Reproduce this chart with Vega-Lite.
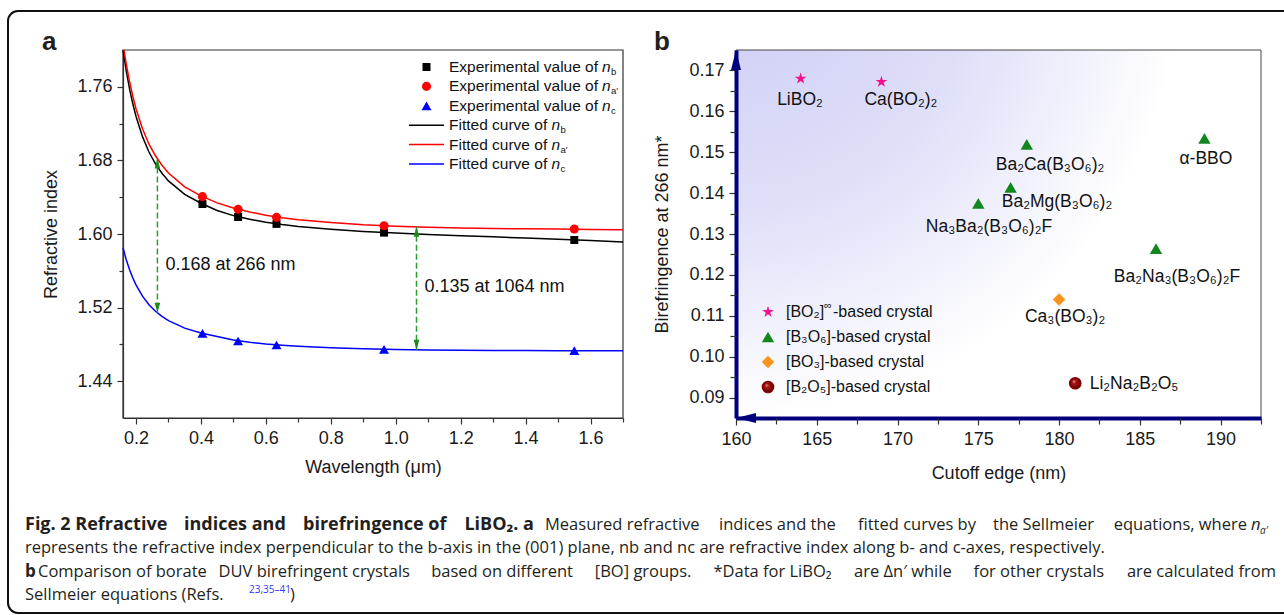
{
  "$schema": "https://vega.github.io/schema/vega-lite/v6.json",
  "width": 1286,
  "height": 602,
  "autosize": {"type": "none"},
  "padding": {"left": 8, "top": 11, "right": -10, "bottom": 2},
  "background": "#ffffff",
  "config": {
    "view": {"stroke": "#111111", "strokeWidth": 2, "cornerRadius": 10},
    "font": "Liberation Sans",
    "axis": {"grid": false, "labelFont": "Liberation Sans", "labelFontSize": 18, "labelColor": "#1a1a1a", "titleFont": "Liberation Sans", "titleFontSize": 18, "titleFontWeight": "normal", "titleColor": "#1a1a1a", "tickColor": "#333333", "domainColor": "#333333", "labelOverlap": false, "labelFlush": false}
  },
  "datasets": {
    "curvesA": [
      {"lam": 0.16, "n": 1.8, "s": "nb"}, {"lam": 0.17, "n": 1.7774, "s": "nb"}, {"lam": 0.18, "n": 1.7581, "s": "nb"}, {"lam": 0.19, "n": 1.7418, "s": "nb"}, {"lam": 0.2, "n": 1.728, "s": "nb"}, {"lam": 0.22, "n": 1.7058, "s": "nb"}, {"lam": 0.24, "n": 1.6891, "s": "nb"}, {"lam": 0.26, "n": 1.6762, "s": "nb"}, {"lam": 0.28, "n": 1.6661, "s": "nb"}, {"lam": 0.3, "n": 1.6577, "s": "nb"}, {"lam": 0.35, "n": 1.643, "s": "nb"}, {"lam": 0.4, "n": 1.6334, "s": "nb"}, {"lam": 0.45, "n": 1.6255, "s": "nb"}, {"lam": 0.5, "n": 1.62, "s": "nb"}, {"lam": 0.55, "n": 1.616, "s": "nb"}, {"lam": 0.6, "n": 1.6128, "s": "nb"}, {"lam": 0.65, "n": 1.6102, "s": "nb"}, {"lam": 0.7, "n": 1.6082, "s": "nb"}, {"lam": 0.8, "n": 1.6052, "s": "nb"}, {"lam": 0.9, "n": 1.6028, "s": "nb"}, {"lam": 1.0, "n": 1.601, "s": "nb"}, {"lam": 1.1, "n": 1.5995, "s": "nb"}, {"lam": 1.2, "n": 1.5982, "s": "nb"}, {"lam": 1.3, "n": 1.5969, "s": "nb"}, {"lam": 1.4, "n": 1.5956, "s": "nb"}, {"lam": 1.5, "n": 1.5943, "s": "nb"}, {"lam": 1.6, "n": 1.5928, "s": "nb"}, {"lam": 1.7, "n": 1.5912, "s": "nb"},
      {"lam": 0.163, "n": 1.8, "s": "na"}, {"lam": 0.17, "n": 1.785, "s": "na"}, {"lam": 0.18, "n": 1.766, "s": "na"}, {"lam": 0.19, "n": 1.75, "s": "na"}, {"lam": 0.2, "n": 1.7362, "s": "na"}, {"lam": 0.22, "n": 1.7143, "s": "na"}, {"lam": 0.24, "n": 1.6976, "s": "na"}, {"lam": 0.26, "n": 1.685, "s": "na"}, {"lam": 0.28, "n": 1.6748, "s": "na"}, {"lam": 0.3, "n": 1.6663, "s": "na"}, {"lam": 0.35, "n": 1.6512, "s": "na"}, {"lam": 0.4, "n": 1.6414, "s": "na"}, {"lam": 0.45, "n": 1.6338, "s": "na"}, {"lam": 0.5, "n": 1.6283, "s": "na"}, {"lam": 0.55, "n": 1.624, "s": "na"}, {"lam": 0.6, "n": 1.6205, "s": "na"}, {"lam": 0.65, "n": 1.6176, "s": "na"}, {"lam": 0.7, "n": 1.6155, "s": "na"}, {"lam": 0.8, "n": 1.6125, "s": "na"}, {"lam": 0.9, "n": 1.61, "s": "na"}, {"lam": 1.0, "n": 1.6085, "s": "na"}, {"lam": 1.1, "n": 1.6074, "s": "na"}, {"lam": 1.2, "n": 1.6066, "s": "na"}, {"lam": 1.3, "n": 1.606, "s": "na"}, {"lam": 1.4, "n": 1.6056, "s": "na"}, {"lam": 1.5, "n": 1.6053, "s": "na"}, {"lam": 1.6, "n": 1.605, "s": "na"}, {"lam": 1.7, "n": 1.6047, "s": "na"},
      {"lam": 0.16, "n": 1.585, "s": "nc"}, {"lam": 0.17, "n": 1.5721, "s": "nc"}, {"lam": 0.18, "n": 1.5614, "s": "nc"}, {"lam": 0.19, "n": 1.5524, "s": "nc"}, {"lam": 0.2, "n": 1.5447, "s": "nc"}, {"lam": 0.22, "n": 1.5324, "s": "nc"}, {"lam": 0.24, "n": 1.5232, "s": "nc"}, {"lam": 0.26, "n": 1.516, "s": "nc"}, {"lam": 0.28, "n": 1.5104, "s": "nc"}, {"lam": 0.3, "n": 1.5058, "s": "nc"}, {"lam": 0.35, "n": 1.4977, "s": "nc"}, {"lam": 0.4, "n": 1.4924, "s": "nc"}, {"lam": 0.45, "n": 1.4885, "s": "nc"}, {"lam": 0.5, "n": 1.4847, "s": "nc"}, {"lam": 0.55, "n": 1.4823, "s": "nc"}, {"lam": 0.6, "n": 1.4804, "s": "nc"}, {"lam": 0.65, "n": 1.479, "s": "nc"}, {"lam": 0.7, "n": 1.4779, "s": "nc"}, {"lam": 0.8, "n": 1.4764, "s": "nc"}, {"lam": 0.9, "n": 1.4752, "s": "nc"}, {"lam": 1.0, "n": 1.4744, "s": "nc"}, {"lam": 1.1, "n": 1.4739, "s": "nc"}, {"lam": 1.2, "n": 1.4736, "s": "nc"}, {"lam": 1.3, "n": 1.4734, "s": "nc"}, {"lam": 1.4, "n": 1.4733, "s": "nc"}, {"lam": 1.5, "n": 1.4732, "s": "nc"}, {"lam": 1.6, "n": 1.4731, "s": "nc"}, {"lam": 1.7, "n": 1.473, "s": "nc"}
    ],
    "ptsA": [
      {"lam": 0.4047, "n": 1.6326, "s": "nb"}, {"lam": 0.5145, "n": 1.6185, "s": "nb"}, {"lam": 0.6328, "n": 1.611, "s": "nb"}, {"lam": 0.964, "n": 1.6015, "s": "nb"}, {"lam": 1.55, "n": 1.5935, "s": "nb"},
      {"lam": 0.4047, "n": 1.6406, "s": "na"}, {"lam": 0.5145, "n": 1.6268, "s": "na"}, {"lam": 0.6328, "n": 1.6181, "s": "na"}, {"lam": 0.964, "n": 1.609, "s": "na"}, {"lam": 1.55, "n": 1.6054, "s": "na"},
      {"lam": 0.4047, "n": 1.492, "s": "nc"}, {"lam": 0.5145, "n": 1.4837, "s": "nc"}, {"lam": 0.6328, "n": 1.4793, "s": "nc"}, {"lam": 0.964, "n": 1.4746, "s": "nc"}, {"lam": 1.55, "n": 1.4732, "s": "nc"}
    ],
    "arrowsA": [
      {"lam": 0.266, "top": 1.682, "bot": 1.5145, "label": "0.168 at 266 nm", "ly": 1.5663},
      {"lam": 1.064, "top": 1.6078, "bot": 1.4741, "label": "0.135 at 1064 nm", "ly": 1.5424}
    ],
    "legA": [
      {"item": 1, "kind": "pt", "s": "nb", "t": "Experimental value of", "sub": "b"},
      {"item": 2, "kind": "pt", "s": "na", "t": "Experimental value of", "sub": "a′"},
      {"item": 3, "kind": "pt", "s": "nc", "t": "Experimental value of", "sub": "c"},
      {"item": 4, "kind": "ln", "s": "nb", "t": "Fitted curve of", "sub": "b"},
      {"item": 5, "kind": "ln", "s": "na", "t": "Fitted curve of", "sub": "a′"},
      {"item": 6, "kind": "ln", "s": "nc", "t": "Fitted curve of", "sub": "c"}
    ],
    "ptsB": [
      {"name": "LiBO₂", "cutoff": 164, "biref": 0.168, "g": "BO2", "lx": 163.96, "ly": 0.1628},
      {"name": "Ca(BO₂)₂", "cutoff": 169, "biref": 0.1672, "g": "BO2", "lx": 170.21, "ly": 0.1628},
      {"name": "Ba₂Ca(B₃O₆)₂", "cutoff": 178, "biref": 0.1519, "g": "B3O6", "lx": 179.44, "ly": 0.1469},
      {"name": "α-BBO", "cutoff": 189, "biref": 0.1534, "g": "B3O6", "lx": 189.09, "ly": 0.1483},
      {"name": "Ba₂Mg(B₃O₆)₂", "cutoff": 177, "biref": 0.1414, "g": "B3O6", "lx": 179.87, "ly": 0.1378},
      {"name": "Na₃Ba₂(B₃O₆)₂F", "cutoff": 175, "biref": 0.1375, "g": "B3O6", "lx": 175.66, "ly": 0.1317},
      {"name": "Ba₂Na₃(B₃O₆)₂F", "cutoff": 186, "biref": 0.1264, "g": "B3O6", "lx": 187.3, "ly": 0.1194},
      {"name": "Ca₃(BO₃)₂", "cutoff": 180, "biref": 0.114, "g": "BO3", "lx": 180.37, "ly": 0.1097},
      {"name": "Li₂Na₂B₂O₅", "cutoff": 181, "biref": 0.0935, "g": "B2O5", "lx": 184.64, "ly": 0.0933}
    ],
    "legB": [
      {"item": 1, "g": "BO2", "t": "[BO₂]"},
      {"item": 2, "g": "B3O6", "t": "[B₃O₆]-based crystal"},
      {"item": 3, "g": "BO3", "t": "[BO₃]-based crystal"},
      {"item": 4, "g": "B2O5", "t": "[B₂O₅]-based crystal"}
    ],
    "caption": [
      {"line": 1, "seg": "B1", "t": "Fig. 2 Refractive"},
      {"line": 1, "seg": "B2", "t": "indices and"},
      {"line": 1, "seg": "B3", "t": "birefringence of"},
      {"line": 1, "seg": "B4", "t": "LiBO₂. a"},
      {"line": 1, "seg": "R1", "t": "Measured refractive"},
      {"line": 1, "seg": "R2", "t": "indices and the"},
      {"line": 1, "seg": "R3", "t": "fitted curves by"},
      {"line": 1, "seg": "R4", "t": "the Sellmeier"},
      {"line": 1, "seg": "R5", "t": "equations, where"},
      {"line": 1, "seg": "it1", "t": "n"},
      {"line": 1, "seg": "sub1", "t": "a′"},
      {"line": 2, "seg": "r0", "t": "represents the refractive index perpendicular to the b-axis in the (001) plane, nb and nc are refractive index along b- and c-axes, respectively."},
      {"line": 3, "seg": "b3", "t": "b"},
      {"line": 3, "seg": "D1", "t": "Comparison of borate"},
      {"line": 3, "seg": "D2", "t": "DUV birefringent crystals"},
      {"line": 3, "seg": "D3", "t": "based on different"},
      {"line": 3, "seg": "D4", "t": "[BO] groups."},
      {"line": 3, "seg": "D5", "t": "*Data for LiBO₂"},
      {"line": 3, "seg": "D6", "t": "are Δn′ while"},
      {"line": 3, "seg": "D7", "t": "for other crystals"},
      {"line": 3, "seg": "D8", "t": "are calculated from"},
      {"line": 4, "seg": "r0", "t": "Sellmeier equations (Refs."},
      {"line": 4, "seg": "ref", "t": "23,35–41"},
      {"line": 4, "seg": "close", "t": ")"}
    ]
  },
  "resolve": {"scale": {"x": "independent", "y": "independent", "color": "independent", "shape": "independent", "size": "independent"}},
  "layer": [
    {
      "resolve": {"axis": {"x": "independent", "y": "independent"}},
      "layer": [
        {
          "data": {"values": [{}]},
          "mark": {"type": "rect", "fill": "transparent", "stroke": "#333333", "strokeWidth": 1.2},
          "encoding": {
            "x": {"datum": 0.16, "type": "quantitative", "scale": {"domain": [0.16, 1.7], "range": [115, 615], "zero": false, "nice": false}, "axis": null},
            "x2": {"datum": 1.7},
            "y": {"datum": 1.4, "type": "quantitative", "scale": {"domain": [1.4, 1.8], "range": [407, 39], "zero": false, "nice": false}, "axis": null},
            "y2": {"datum": 1.8}
          }
        },
        {
          "data": {"name": "curvesA"},
          "mark": {"type": "line", "strokeWidth": 1.5},
          "encoding": {
            "x": {"field": "lam", "type": "quantitative", "axis": {"orient": "bottom", "offset": -195, "values": [0.2, 0.4, 0.6, 0.8, 1.0, 1.2, 1.4, 1.6], "format": ".1f", "tickSize": 6, "tickWidth": 1.2, "domainWidth": 1.2, "labelPadding": 5, "title": "Wavelength (μm)", "titlePadding": 11}},
            "y": {"field": "n", "type": "quantitative", "axis": {"orient": "left", "offset": -115, "values": [1.44, 1.52, 1.6, 1.68, 1.76], "format": ".2f", "tickSize": 6, "tickWidth": 1.2, "domainWidth": 1.2, "labelPadding": 5, "title": "Refractive index", "titlePadding": 16}},
            "color": {"field": "s", "type": "nominal", "scale": {"domain": ["nb", "na", "nc"], "range": ["#000000", "#ff0000", "#0000ff"]}, "legend": null}
          }
        },
        {
          "data": {"name": "arrowsA"},
          "mark": {"type": "rule", "color": "#2e9a2e", "strokeWidth": 1.5, "strokeDash": [6, 3]},
          "encoding": {
            "x": {"field": "lam", "type": "quantitative", "axis": null},
            "y": {"field": "top", "type": "quantitative", "axis": null},
            "y2": {"field": "bot"}
          }
        },
        {
          "data": {"name": "arrowsA"},
          "mark": {"type": "point", "shape": "M0,0L-0.28,1L0.28,1Z", "size": 400, "filled": true, "color": "#1e8a1e", "opacity": 1},
          "encoding": {
            "x": {"field": "lam", "type": "quantitative", "axis": null},
            "y": {"field": "top", "type": "quantitative", "axis": null}
          }
        },
        {
          "data": {"name": "arrowsA"},
          "mark": {"type": "point", "shape": "M0,0L-0.28,-1L0.28,-1Z", "size": 400, "filled": true, "color": "#1e8a1e", "opacity": 1},
          "encoding": {
            "x": {"field": "lam", "type": "quantitative", "axis": null},
            "y": {"field": "bot", "type": "quantitative", "axis": null}
          }
        },
        {
          "data": {"name": "arrowsA"},
          "mark": {"type": "text", "align": "left", "baseline": "middle", "dx": 8, "fontSize": 18, "color": "#111111"},
          "encoding": {
            "x": {"field": "lam", "type": "quantitative", "axis": null},
            "y": {"field": "ly", "type": "quantitative", "axis": null},
            "text": {"field": "label"}
          }
        },
        {
          "data": {"name": "ptsA"},
          "mark": {"type": "point", "filled": true, "opacity": 1},
          "encoding": {
            "x": {"field": "lam", "type": "quantitative", "axis": {"orient": "bottom", "offset": -195, "values": [0.3, 0.5, 0.7, 0.9, 1.1, 1.3, 1.5, 1.7], "labels": false, "domain": false, "tickSize": 4, "tickWidth": 1.2, "title": null}},
            "y": {"field": "n", "type": "quantitative", "axis": {"orient": "left", "offset": -115, "values": [1.48, 1.56, 1.64, 1.72], "labels": false, "domain": false, "tickSize": 4, "tickWidth": 1.2, "title": null}},
            "shape": {"field": "s", "type": "nominal", "scale": {"domain": ["nb", "na", "nc"], "range": ["square", "circle", "triangle-up"]}, "legend": null},
            "color": {"field": "s", "type": "nominal", "legend": null},
            "size": {"field": "s", "type": "nominal", "scale": {"domain": ["nb", "na", "nc"], "range": [64, 100, 100]}, "legend": null}
          }
        },
        {
          "data": {"values": [{}]},
          "mark": {"type": "text", "text": "a", "align": "left", "baseline": "alphabetic", "dx": -81, "fontSize": 26, "fontWeight": "bold", "color": "#231f20"},
          "encoding": {
            "x": {"datum": 0.16, "type": "quantitative", "axis": null},
            "y": {"datum": 1.8, "type": "quantitative", "axis": null}
          }
        }
      ]
    },
    {
      "data": {"name": "legA"},
      "encoding": {
        "y": {"field": "item", "type": "ordinal", "scale": {"type": "point", "domain": [1, 2, 3, 4, 5, 6], "range": [56, 153], "padding": 0}, "axis": null},
        "x": {"datum": 0.5, "type": "quantitative", "scale": {"domain": [0, 1], "range": [401, 436]}, "axis": null}
      },
      "layer": [
        {
          "transform": [{"filter": "datum.kind === 'pt'"}],
          "mark": {"type": "point", "filled": true, "opacity": 1},
          "encoding": {
            "shape": {"field": "s", "type": "nominal", "scale": {"domain": ["nb", "na", "nc"], "range": ["square", "circle", "triangle-up"]}, "legend": null},
            "color": {"field": "s", "type": "nominal", "scale": {"domain": ["nb", "na", "nc"], "range": ["#000000", "#ff0000", "#0000ff"]}, "legend": null},
            "size": {"field": "s", "type": "nominal", "scale": {"domain": ["nb", "na", "nc"], "range": [64, 100, 100]}, "legend": null}
          }
        },
        {
          "transform": [{"filter": "datum.kind === 'ln'"}],
          "mark": {"type": "rule", "strokeWidth": 1.5},
          "encoding": {
            "x": {"datum": 0, "type": "quantitative", "axis": null},
            "x2": {"datum": 1},
            "color": {"field": "s", "type": "nominal", "legend": null}
          }
        },
        {
          "mark": {"type": "text", "align": "left", "baseline": "middle", "dx": 5, "fontSize": 15.5, "color": "#111111"},
          "encoding": {"x": {"datum": 1, "type": "quantitative", "axis": null}, "text": {"field": "t"}}
        },
        {
          "transform": [{"filter": "datum.kind === 'pt'"}],
          "mark": {"type": "text", "text": "n", "align": "left", "baseline": "middle", "dx": 158, "fontSize": 15.5, "fontStyle": "italic", "color": "#111111"},
          "encoding": {"x": {"datum": 1, "type": "quantitative", "axis": null}}
        },
        {
          "transform": [{"filter": "datum.kind === 'pt'"}],
          "mark": {"type": "text", "align": "left", "baseline": "middle", "dx": 167, "dy": 5, "fontSize": 9.5, "color": "#111111"},
          "encoding": {"x": {"datum": 1, "type": "quantitative", "axis": null}, "text": {"field": "sub"}}
        },
        {
          "transform": [{"filter": "datum.kind === 'ln'"}],
          "mark": {"type": "text", "text": "n", "align": "left", "baseline": "middle", "dx": 107.5, "fontSize": 15.5, "fontStyle": "italic", "color": "#111111"},
          "encoding": {"x": {"datum": 1, "type": "quantitative", "axis": null}}
        },
        {
          "transform": [{"filter": "datum.kind === 'ln'"}],
          "mark": {"type": "text", "align": "left", "baseline": "middle", "dx": 116.5, "dy": 5, "fontSize": 9.5, "color": "#111111"},
          "encoding": {"x": {"datum": 1, "type": "quantitative", "axis": null}, "text": {"field": "sub"}}
        }
      ]
    },
    {
      "resolve": {"axis": {"x": "independent", "y": "independent"}},
      "layer": [
        {
          "data": {"values": [{}]},
          "mark": {"type": "rect", "stroke": "#444444", "strokeWidth": 1, "fill": {"gradient": "radial", "x1": 0, "y1": 0, "r1": 0, "x2": 0, "y2": 0, "r2": 1, "stops": [{"offset": 0, "color": "#cdcdf5"}, {"offset": 0.45, "color": "#dfdff9"}, {"offset": 0.85, "color": "#ffffff"}]}},
          "encoding": {
            "x": {"datum": 160, "type": "quantitative", "scale": {"domain": [160, 192.5], "range": [728, 1253], "zero": false, "nice": false}, "axis": null},
            "x2": {"datum": 192.5},
            "y": {"datum": 0.085, "type": "quantitative", "scale": {"domain": [0.085, 0.175], "range": [407, 39], "zero": false, "nice": false}, "axis": null},
            "y2": {"datum": 0.175}
          }
        },
        {
          "data": {"name": "ptsB"},
          "mark": {"type": "point", "filled": true, "opacity": 1},
          "encoding": {
            "x": {"field": "cutoff", "type": "quantitative", "axis": {"orient": "bottom", "offset": -195, "values": [160, 165, 170, 175, 180, 185, 190], "tickSize": 7, "tickWidth": 1.2, "domainColor": "#00007f", "domainWidth": 4, "labelPadding": 5, "title": "Cutoff edge (nm)", "titlePadding": 16, "zindex": 1}},
            "y": {"field": "biref", "type": "quantitative", "axis": {"orient": "left", "offset": -728, "values": [0.09, 0.1, 0.11, 0.12, 0.13, 0.14, 0.15, 0.16, 0.17], "format": ".2f", "tickSize": 7, "tickWidth": 1.2, "domainColor": "#00007f", "domainWidth": 4, "labelPadding": 5, "title": "Birefringence at 266 nm*", "titlePadding": 17, "zindex": 1}},
            "shape": {"field": "g", "type": "nominal", "scale": {"domain": ["BO2", "B3O6", "BO3", "B2O5"], "range": ["M0,-1L0.2245,-0.309L0.951,-0.309L0.363,0.118L0.588,0.809L0,0.382L-0.588,0.809L-0.363,0.118L-0.951,-0.309L-0.2245,-0.309Z", "triangle-up", "diamond", "circle"]}, "legend": null},
            "color": {"field": "g", "type": "nominal", "scale": {"domain": ["BO2", "B3O6", "BO3", "B2O5"], "range": ["#f0148c", "#12871e", "#f7941d", "#8b0000"]}, "legend": null},
            "size": {"field": "g", "type": "nominal", "scale": {"domain": ["BO2", "B3O6", "BO3", "B2O5"], "range": [150, 160, 170, 110]}, "legend": null}
          }
        },
        {
          "data": {"name": "ptsB"},
          "transform": [{"filter": "datum.g === 'B2O5'"}],
          "mark": {"type": "point", "shape": "circle", "size": 110, "filled": true, "opacity": 1, "fill": {"gradient": "radial", "x1": 0.35, "y1": 0.3, "r1": 0, "x2": 0.5, "y2": 0.5, "r2": 0.55, "stops": [{"offset": 0, "color": "#f4b4b4"}, {"offset": 0.3, "color": "#b01818"}, {"offset": 1, "color": "#5a0000"}]}},
          "encoding": {
            "x": {"field": "cutoff", "type": "quantitative", "axis": null},
            "y": {"field": "biref", "type": "quantitative", "axis": null}
          }
        },
        {
          "data": {"name": "ptsB"},
          "mark": {"type": "text", "align": "center", "baseline": "middle", "fontSize": 17.5, "color": "#111111"},
          "encoding": {
            "x": {"field": "lx", "type": "quantitative", "axis": {"orient": "bottom", "offset": -195, "values": [162.5, 167.5, 172.5, 177.5, 182.5, 187.5, 192.5], "labels": false, "domain": false, "tickSize": 6, "tickWidth": 1.2, "title": null, "zindex": 1}},
            "y": {"field": "ly", "type": "quantitative", "axis": {"orient": "left", "offset": -728, "values": [0.095, 0.105, 0.115, 0.125, 0.135, 0.145, 0.155, 0.165], "labels": false, "domain": false, "tickSize": 6, "tickWidth": 1.2, "title": null, "zindex": 1}},
            "text": {"field": "name"}
          }
        },
        {
          "data": {"values": [{}]},
          "mark": {"type": "point", "shape": "M0,0L-0.25,1L0.25,1Z", "size": 1600, "filled": true, "color": "#00007f", "opacity": 1},
          "encoding": {
            "x": {"datum": 160, "type": "quantitative", "axis": null},
            "y": {"datum": 0.175, "type": "quantitative", "axis": null}
          }
        },
        {
          "data": {"values": [{}]},
          "mark": {"type": "point", "shape": "M0,0L1,-0.25L1,0.25Z", "size": 1600, "filled": true, "color": "#00007f", "opacity": 1},
          "encoding": {
            "x": {"datum": 160, "type": "quantitative", "axis": null},
            "y": {"datum": 0.085, "type": "quantitative", "axis": null}
          }
        },
        {
          "data": {"values": [{}]},
          "mark": {"type": "text", "text": "b", "align": "left", "baseline": "alphabetic", "dx": -82, "fontSize": 26, "fontWeight": "bold", "color": "#231f20"},
          "encoding": {
            "x": {"datum": 160, "type": "quantitative", "axis": null},
            "y": {"datum": 0.175, "type": "quantitative", "axis": null}
          }
        }
      ]
    },
    {
      "data": {"name": "legB"},
      "encoding": {
        "y": {"field": "item", "type": "ordinal", "scale": {"type": "point", "domain": [1, 2, 3, 4], "range": [301, 376], "padding": 0}, "axis": null},
        "x": {"datum": 0, "type": "quantitative", "scale": {"domain": [0, 1], "range": [760, 800]}, "axis": null}
      },
      "layer": [
        {
          "mark": {"type": "point", "filled": true, "opacity": 1},
          "encoding": {
            "shape": {"field": "g", "type": "nominal", "scale": {"domain": ["BO2", "B3O6", "BO3", "B2O5"], "range": ["M0,-1L0.2245,-0.309L0.951,-0.309L0.363,0.118L0.588,0.809L0,0.382L-0.588,0.809L-0.363,0.118L-0.951,-0.309L-0.2245,-0.309Z", "triangle-up", "diamond", "circle"]}, "legend": null},
            "color": {"field": "g", "type": "nominal", "scale": {"domain": ["BO2", "B3O6", "BO3", "B2O5"], "range": ["#f0148c", "#12871e", "#f7941d", "#8b0000"]}, "legend": null},
            "size": {"field": "g", "type": "nominal", "scale": {"domain": ["BO2", "B3O6", "BO3", "B2O5"], "range": [150, 160, 170, 110]}, "legend": null}
          }
        },
        {
          "transform": [{"filter": "datum.g === 'B2O5'"}],
          "mark": {"type": "point", "shape": "circle", "size": 110, "filled": true, "opacity": 1, "fill": {"gradient": "radial", "x1": 0.35, "y1": 0.3, "r1": 0, "x2": 0.5, "y2": 0.5, "r2": 0.55, "stops": [{"offset": 0, "color": "#f4b4b4"}, {"offset": 0.3, "color": "#b01818"}, {"offset": 1, "color": "#5a0000"}]}}
        },
        {
          "mark": {"type": "text", "align": "left", "baseline": "middle", "dx": 18, "fontSize": 16, "color": "#111111"},
          "encoding": {"text": {"field": "t"}}
        },
        {
          "transform": [{"filter": "datum.item === 1"}],
          "mark": {"type": "text", "text": "∞", "align": "left", "baseline": "middle", "dx": 56, "dy": -6, "fontSize": 11, "color": "#111111"}
        },
        {
          "transform": [{"filter": "datum.item === 1"}],
          "mark": {"type": "text", "text": "-based crystal", "align": "left", "baseline": "middle", "dx": 65, "fontSize": 16, "color": "#111111"}
        }
      ]
    },
    {
      "data": {"name": "caption"},
      "encoding": {
        "y": {"field": "line", "type": "ordinal", "scale": {"type": "point", "domain": [1, 2, 3, 4], "range": [519, 589], "padding": 0}, "axis": null},
        "x": {"datum": 0, "type": "quantitative", "scale": {"domain": [0, 1], "range": [17, 18]}, "axis": null},
        "text": {"field": "t"}
      },
      "layer": [
        {"transform": [{"filter": "datum.seg === 'B1'"}], "mark": {"type": "text", "align": "left", "baseline": "alphabetic", "font": "Open Sans", "fontSize": 18, "fontWeight": "bold", "color": "#231f20"}},
        {"transform": [{"filter": "datum.seg === 'B2'"}], "mark": {"type": "text", "align": "left", "baseline": "alphabetic", "dx": 159, "font": "Open Sans", "fontSize": 18, "fontWeight": "bold", "color": "#231f20"}},
        {"transform": [{"filter": "datum.seg === 'B3'"}], "mark": {"type": "text", "align": "left", "baseline": "alphabetic", "dx": 278, "font": "Open Sans", "fontSize": 18, "fontWeight": "bold", "color": "#231f20"}},
        {"transform": [{"filter": "datum.seg === 'B4'"}], "mark": {"type": "text", "align": "right", "baseline": "alphabetic", "dx": 509, "font": "Open Sans", "fontSize": 18, "fontWeight": "bold", "color": "#231f20"}},
        {"transform": [{"filter": "datum.seg === 'b3'"}], "mark": {"type": "text", "align": "left", "baseline": "alphabetic", "font": "Open Sans", "fontSize": 17, "fontWeight": "bold", "color": "#231f20"}},
        {"transform": [{"filter": "datum.seg === 'r0'"}], "mark": {"type": "text", "align": "left", "baseline": "alphabetic", "font": "Open Sans", "fontSize": 16.5, "color": "#231f20"}},
        {"transform": [{"filter": "datum.seg === 'R1'"}], "mark": {"type": "text", "align": "left", "baseline": "alphabetic", "dx": 520, "font": "Open Sans", "fontSize": 16.5, "color": "#231f20"}},
        {"transform": [{"filter": "datum.seg === 'R2'"}], "mark": {"type": "text", "align": "left", "baseline": "alphabetic", "dx": 694, "font": "Open Sans", "fontSize": 16.5, "color": "#231f20"}},
        {"transform": [{"filter": "datum.seg === 'R3'"}], "mark": {"type": "text", "align": "left", "baseline": "alphabetic", "dx": 833, "font": "Open Sans", "fontSize": 16.5, "color": "#231f20"}},
        {"transform": [{"filter": "datum.seg === 'R4'"}], "mark": {"type": "text", "align": "left", "baseline": "alphabetic", "dx": 968, "font": "Open Sans", "fontSize": 16.5, "color": "#231f20"}},
        {"transform": [{"filter": "datum.seg === 'R5'"}], "mark": {"type": "text", "align": "right", "baseline": "alphabetic", "dx": 1222, "font": "Open Sans", "fontSize": 16.5, "color": "#231f20"}},
        {"transform": [{"filter": "datum.seg === 'it1'"}], "mark": {"type": "text", "align": "left", "baseline": "alphabetic", "dx": 1226, "font": "Open Sans", "fontSize": 16.5, "fontStyle": "italic", "color": "#231f20"}},
        {"transform": [{"filter": "datum.seg === 'sub1'"}], "mark": {"type": "text", "align": "left", "baseline": "alphabetic", "dx": 1235, "dy": 4, "font": "Open Sans", "fontSize": 10, "fontStyle": "italic", "color": "#231f20"}},
        {"transform": [{"filter": "datum.seg === 'D1'"}], "mark": {"type": "text", "align": "left", "baseline": "alphabetic", "dx": 13, "font": "Open Sans", "fontSize": 16.5, "color": "#231f20"}},
        {"transform": [{"filter": "datum.seg === 'D2'"}], "mark": {"type": "text", "align": "left", "baseline": "alphabetic", "dx": 193.6, "font": "Open Sans", "fontSize": 16.5, "color": "#231f20"}},
        {"transform": [{"filter": "datum.seg === 'D3'"}], "mark": {"type": "text", "align": "left", "baseline": "alphabetic", "dx": 406.2, "font": "Open Sans", "fontSize": 16.5, "color": "#231f20"}},
        {"transform": [{"filter": "datum.seg === 'D4'"}], "mark": {"type": "text", "align": "left", "baseline": "alphabetic", "dx": 569.8, "font": "Open Sans", "fontSize": 16.5, "color": "#231f20"}},
        {"transform": [{"filter": "datum.seg === 'D5'"}], "mark": {"type": "text", "align": "left", "baseline": "alphabetic", "dx": 688.4, "font": "Open Sans", "fontSize": 16.5, "color": "#231f20"}},
        {"transform": [{"filter": "datum.seg === 'D6'"}], "mark": {"type": "text", "align": "left", "baseline": "alphabetic", "dx": 829, "font": "Open Sans", "fontSize": 16.5, "color": "#231f20"}},
        {"transform": [{"filter": "datum.seg === 'D7'"}], "mark": {"type": "text", "align": "left", "baseline": "alphabetic", "dx": 948.6, "font": "Open Sans", "fontSize": 16.5, "color": "#231f20"}},
        {"transform": [{"filter": "datum.seg === 'D8'"}], "mark": {"type": "text", "align": "right", "baseline": "alphabetic", "dx": 1251, "font": "Open Sans", "fontSize": 16.5, "color": "#231f20"}},
        {"transform": [{"filter": "datum.seg === 'ref'"}], "mark": {"type": "text", "align": "left", "baseline": "alphabetic", "dx": 224, "dy": -7, "font": "Open Sans", "fontSize": 10, "color": "#3535ff"}},
        {"transform": [{"filter": "datum.seg === 'close'"}], "mark": {"type": "text", "align": "left", "baseline": "alphabetic", "dx": 265, "font": "Open Sans", "fontSize": 16.5, "color": "#231f20"}}
      ]
    }
  ]
}
